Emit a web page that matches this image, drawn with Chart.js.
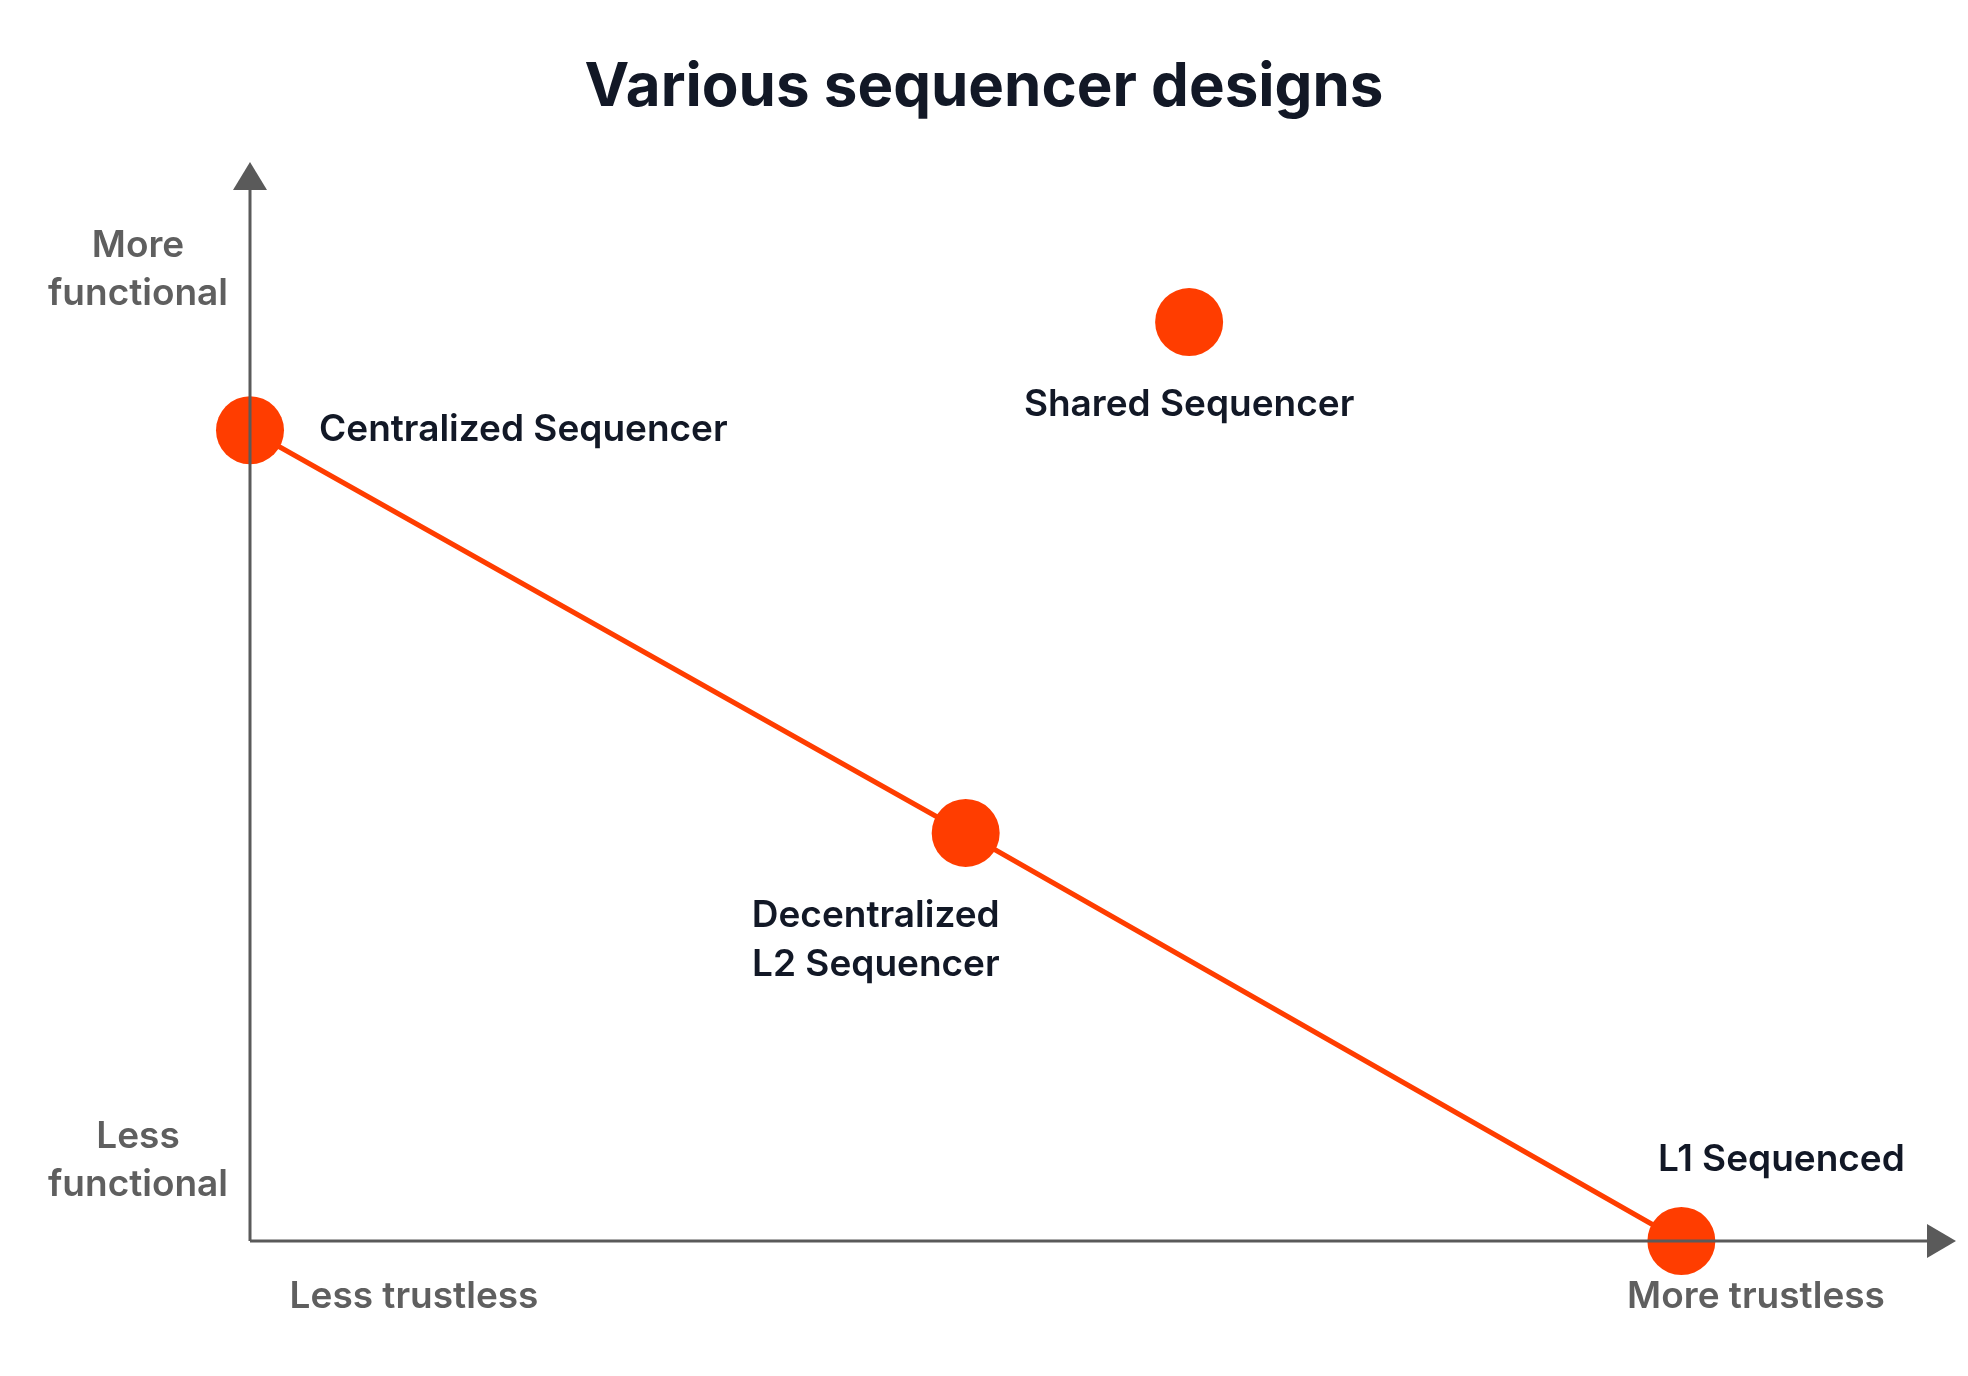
<!DOCTYPE html>
<html><head><meta charset="utf-8">
<script src="https://cdn.jsdelivr.net/npm/chart.js@4"></script>
<style>html,body{margin:0;padding:0;background:#fff}#c{display:block}</style>
</head><body>
<canvas id="c" width="1968" height="1376"></canvas>
<script>
const titleText = "Various sequencer designs";
const lineNames = ["Centralized Sequencer", "Decentralized L2 Sequencer", "L1 Sequenced"];
const lineX = [0, 42.6, 85.2];
const lineY = [75.7, 38.1, 0];
const sharedName = "Shared Sequencer";
const sharedX = [55.9];
const sharedY = [85.8];
const yAxisLabels = [["More","functional"],["Less","functional"]];
const xAxisLabels = ["Less trustless","More trustless"];

const RED = "#ff3d00", DARK = "#121826", GRAY = "#5f5f5f";
const FONT = "Inter, 'Noto Sans', sans-serif";

const deco = {
  id: "deco",
  afterDatasetsDraw(chart) {
    const ctx = chart.ctx, a = chart.chartArea, xs = chart.scales.x, ys = chart.scales.y;
    ctx.save();
    // axes
    ctx.strokeStyle = "#5a5a5a"; ctx.fillStyle = "#5a5a5a"; ctx.lineWidth = 3;
    ctx.beginPath(); ctx.moveTo(a.left, a.bottom); ctx.lineTo(a.left, 180); ctx.stroke();
    ctx.beginPath(); ctx.moveTo(a.left, a.bottom); ctx.lineTo(1935, a.bottom); ctx.stroke();
    ctx.beginPath(); ctx.moveTo(a.left, 162); ctx.lineTo(a.left-17, 190); ctx.lineTo(a.left+17, 190); ctx.closePath(); ctx.fill();
    ctx.beginPath(); ctx.moveTo(1956, a.bottom); ctx.lineTo(1927, a.bottom-17); ctx.lineTo(1927, a.bottom+17); ctx.closePath(); ctx.fill();
    ctx.restore();
  },
  afterDraw(chart) {
    const ctx = chart.ctx, xs = chart.scales.x, ys = chart.scales.y;
    ctx.save();
    ctx.textBaseline = "middle";
    // title
    ctx.fillStyle = DARK; ctx.font = "bold 60px " + FONT; ctx.textAlign = "center";
    ctx.fillText(titleText, 984, 88);
    // point labels
    ctx.font = "600 37px " + FONT;
    const px = i => xs.getPixelForValue(lineX[i]), py = i => ys.getPixelForValue(lineY[i]);
    ctx.textAlign = "left"; ctx.fillText(lineNames[0], px(0)+69, py(0));
    ctx.textAlign = "right"; ctx.fillText("Decentralized", px(1)+34, py(1)+83); ctx.fillText("L2 Sequencer", px(1)+34, py(1)+132);
    ctx.textAlign = "center"; ctx.fillText(lineNames[2], px(2)+100, py(2)-81);
    ctx.fillText(sharedName, xs.getPixelForValue(sharedX[0]), ys.getPixelForValue(sharedY[0])+83);
    // axis labels
    ctx.fillStyle = GRAY; ctx.font = "600 37px " + FONT;
    ctx.fillText(yAxisLabels[0][0], 138, 246); ctx.fillText(yAxisLabels[0][1], 138, 294);
    ctx.fillText(yAxisLabels[1][0], 138, 1137); ctx.fillText(yAxisLabels[1][1], 138, 1185);
    ctx.fillText(xAxisLabels[0], 414, 1297); ctx.fillText(xAxisLabels[1], 1756, 1297);
    ctx.restore();
  }
};

new Chart(document.getElementById("c"), {
  type: "scatter",
  data: { datasets: [
    { data: lineX.map((x,i)=>({x, y: lineY[i]})), showLine: true, borderColor: RED, borderWidth: 5,
      backgroundColor: RED, pointRadius: 34, pointHoverRadius: 34, pointBorderWidth: 0, clip: false },
    { data: sharedX.map((x,i)=>({x, y: sharedY[i]})), backgroundColor: RED, pointRadius: 34,
      pointHoverRadius: 34, pointBorderWidth: 0, clip: false }
  ]},
  options: {
    responsive: false, animation: false, devicePixelRatio: 1,
    layout: { padding: { left: 250, right: 38, top: 170, bottom: 135 } },
    plugins: { legend: { display: false }, tooltip: { enabled: false }, title: { display: false } },
    scales: {
      x: { type: "linear", min: 0, max: 100, display: false },
      y: { type: "linear", min: 0, max: 100, display: false }
    }
  },
  plugins: [deco]
});
</script>
</body></html>
